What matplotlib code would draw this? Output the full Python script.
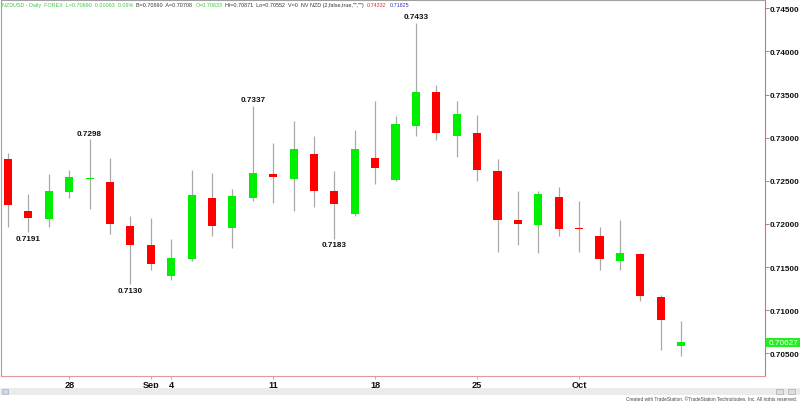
import matplotlib
matplotlib.use('Agg')
import matplotlib.pyplot as plt
from matplotlib.patches import Rectangle
from matplotlib.transforms import blended_transform_factory
import numpy as np

plt.rcParams['font.family'] = ['Liberation Sans', 'DejaVu Sans']

# ---- data (NZDUSD daily) ----
opens  = [0.7275, 0.7215, 0.7206, 0.7237, 0.72525, 0.7249, 0.7198, 0.7176, 0.7140, 0.7159,
          0.7230, 0.7195, 0.7230, 0.7258, 0.7252, 0.7281, 0.7238, 0.7212, 0.7276, 0.7251,
          0.7314, 0.7353, 0.7302, 0.7305, 0.7261, 0.7205, 0.7199, 0.7231, 0.71955, 0.7186,
          0.7157, 0.7165, 0.7115, 0.7058]
highs  = [0.7282, 0.7235, 0.7258, 0.7262, 0.7298, 0.7276, 0.7209, 0.7207, 0.7183, 0.7263,
          0.7259, 0.7241, 0.7337, 0.7294, 0.7319, 0.7302, 0.7261, 0.7309, 0.7342, 0.7325,
          0.7433, 0.7361, 0.7342, 0.7326, 0.7275, 0.7238, 0.7238, 0.7243, 0.7226, 0.7197,
          0.7205, 0.7166, 0.7118, 0.7087]
lows   = [0.7196, 0.7191, 0.7196, 0.7230, 0.7217, 0.7188, 0.7130, 0.7146, 0.7135, 0.7157,
          0.7186, 0.7172, 0.7226, 0.7224, 0.7215, 0.7220, 0.7183, 0.7209, 0.7246, 0.7250,
          0.7302, 0.7297, 0.7278, 0.7250, 0.7167, 0.7176, 0.7166, 0.7186, 0.7167, 0.7147,
          0.7146, 0.7111, 0.7054, 0.7047]
closes = [0.7222, 0.7207, 0.7238, 0.7254, 0.72535, 0.7200, 0.7176, 0.7154, 0.7160, 0.7233,
          0.7198, 0.7232, 0.7259, 0.7254, 0.7287, 0.7238, 0.7223, 0.7287, 0.7265, 0.7316,
          0.7353, 0.7305, 0.7327, 0.7263, 0.7205, 0.7200, 0.7235, 0.7194, 0.71945, 0.7159,
          0.7166, 0.7116, 0.7089, 0.70627]

xtick_pos = [3, 7, 8, 13, 18, 23, 28]
xtick_labels = ['28', 'Sep', '4', '11', '18', '25', 'Oct']
yticks = [0.705, 0.710, 0.715, 0.720, 0.725, 0.730, 0.735, 0.740, 0.745]

# annotated extremes: (bar index, label, 'high'/'low')
ann_idx = [1, 4, 6, 12, 16, 20]
ann_text = ['0.7191', '0.7298', '0.7130', '0.7337', '0.7183', '0.7433']
ann_kind = ['low', 'high', 'low', 'high', 'low', 'high']

last_price = 0.70627

header_parts = ['NZDUSD - Daily  FOREX  L=0.70690  0.00063  0.09%',
                'B=0.70690  A=0.70708',
                'O=0.70633',
                'Hi=0.70871  Lo=0.70552  V=0  NV NZD (2,false,true,"","")',
                '0.74332',
                '0.71825']

# ---- figure ----
W, H = 800, 402
fig = plt.figure(figsize=(8, 4.02), dpi=100)
fig.patch.set_facecolor('white')
ax = fig.add_axes([1 / W, (H - 376.5) / H, 764 / W, 375.5 / H])

o = np.array(opens); h = np.array(highs); l = np.array(lows); c = np.array(closes)
x = np.arange(len(o))
up = c >= o
colors = np.where(up, '#00ee00', '#ff0000')

ax.vlines(x, l, h, color='#a9a9a9', lw=0.9, zorder=1)
bottoms = np.minimum(o, c)
heights = np.maximum(np.abs(c - o), 0.00013)
ax.bar(x, heights, bottom=bottoms, width=0.4, color=colors, linewidth=0, zorder=2)

ax.set_xlim(-0.343, 37.11)
ax.set_ylim(0.702426, 0.745962)

# y axis on right
ax.yaxis.tick_right()
ax.set_yticks(yticks)
ax.set_yticklabels(['%.5f' % v for v in yticks], fontsize=5.9, fontweight='bold', color='#111111')
ax.tick_params(axis='y', direction='out', length=3, width=0.7, color='#c07878', pad=0.6)

ax.set_xticks(xtick_pos)
ax.set_xticklabels(xtick_labels, fontsize=6.6, fontweight='bold', color='#111111')
ax.tick_params(axis='x', direction='out', length=2, width=0.7, color='#e0a0a0', pad=1.5)

for side in ['left', 'top']:
    ax.spines[side].set_color('#a0a0a0')
    ax.spines[side].set_linewidth(0.8)
ax.spines['right'].set_color('#c07878')
ax.spines['right'].set_linewidth(0.8)
ax.spines['bottom'].set_color('#e09a9a')
ax.spines['bottom'].set_linewidth(0.8)

for i, t, k in zip(ann_idx, ann_text, ann_kind):
    if k == 'high':
        ax.annotate(t, xy=(i, h[i]), xytext=(0, 4.6), textcoords='offset points',
                    ha='center', va='center', fontsize=5.9, fontweight='bold', color='#111111')
    else:
        ax.annotate(t, xy=(i, l[i]), xytext=(0, -4.6), textcoords='offset points',
                    ha='center', va='center', fontsize=5.9, fontweight='bold', color='#111111')

# last price box
tr = blended_transform_factory(ax.transAxes, ax.transData)
box_h = 8.5 / 8625.0
ax.add_patch(Rectangle((1.001, last_price - box_h / 2), 35 / 764, box_h, transform=tr,
                       facecolor='#22ee22', edgecolor='none', clip_on=False, zorder=5))
ax.text(1.0045, last_price, '%.5f' % last_price, transform=tr, ha='left', va='center',
        fontsize=5.9, color='white', zorder=6)

# header: segments chained left to right
hcol = ['#40c840', '#333333', '#40c840', '#333333', '#e03030', '#3535c0']
fig.canvas.draw()
renderer = fig.canvas.get_renderer()
xp = 2.0
for t, col in zip(header_parts, hcol):
    txt = fig.text(xp / W, 1 - 5.5 / H, t, ha='left', va='center', fontsize=3.9, color=col)
    bb = txt.get_window_extent(renderer=renderer)
    xp = bb.x1 + 3.0

# scrollbar strip and footer
fig.patches.append(Rectangle((0, 1 - 395.5 / H), 1, 6.5 / H, transform=fig.transFigure,
                             facecolor='#ebebeb', edgecolor='none', zorder=0))
fig.patches.append(Rectangle((2 / W, 1 - 395 / H), 6 / W, 5.5 / H, transform=fig.transFigure,
                             facecolor='#c8d8ee', edgecolor='#a0a0b0', lw=0.4))
for xx in (776, 788):
    fig.patches.append(Rectangle((xx / W, 1 - 395 / H), 7 / W, 5.5 / H, transform=fig.transFigure,
                                 facecolor='#dddddd', edgecolor='#a0a0a0', lw=0.4))
fig.text(797 / W, 1 - 399 / H,
         'Created with TradeStation. \u00a9TradeStation Technologies, Inc. All rights reserved.',
         ha='right', va='center', fontsize=3.4, color='#444444')

fig.savefig('out.png', dpi=100, facecolor='white')
